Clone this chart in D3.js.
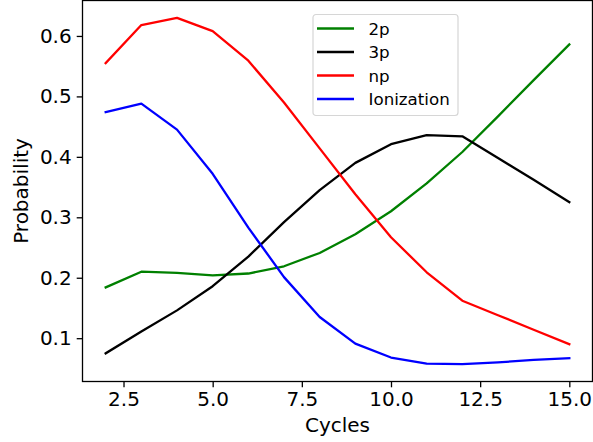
<!DOCTYPE html>
<html>
<head>
<meta charset="utf-8">
<script src="https://cdn.jsdelivr.net/npm/d3@7"></script>
<style>
  body { margin: 0; background: #fff; }
  text { font-family: "DejaVu Sans", sans-serif; fill: #000; }
</style>
</head>
<body>
<div class="chart"></div>
<script>
    // Data
    var cycles = [2, 3, 4, 5, 6, 7, 8, 9, 10, 11, 12, 13, 14, 15];
    var p2p = [0.184, 0.210, 0.208, 0.204, 0.207, 0.219, 0.241, 0.272, 0.310, 0.356, 0.408, 0.467, 0.527, 0.586];
    var p3p = [0.075, 0.111, 0.146, 0.186, 0.235, 0.292, 0.345, 0.390, 0.421, 0.436, 0.434, 0.398, 0.362, 0.325];
    var pnp = [0.555, 0.618, 0.630, 0.608, 0.559, 0.490, 0.414, 0.338, 0.267, 0.209, 0.162, 0.138, 0.114, 0.090];
    var pIon = [0.474, 0.488, 0.445, 0.372, 0.283, 0.201, 0.135, 0.091, 0.068, 0.058, 0.057, 0.060, 0.064, 0.067];
    var seriesNames = ['2p', '3p', 'np', 'Ionization'];
    var seriesColors = ['green', 'black', 'red', 'blue'];
    var xTicks = [2.5, 5.0, 7.5, 10.0, 12.5, 15.0];
    var yTicks = [0.1, 0.2, 0.3, 0.4, 0.5, 0.6];

    var w = 593;
    var h = 442;
    var plotLeft = 82.5;
    var plotRight = 592.5;
    var plotTop = 0.5;
    var plotBottom = 381.5;
    var tickLen = 5.8;
    var fontSize = 20;

    var seriesValues = [p2p, p3p, pnp, pIon];

    var svg = d3.select('.chart')
        .append('svg')
            .attr('width', w)
            .attr('height', h);

    // matplotlib style 5% margins
    var allVals = [].concat(p2p, p3p, pnp, pIon);
    var yMin = d3.min(allVals), yMax = d3.max(allVals);
    var yPad = (yMax - yMin) * 0.05;
    var xPad = (d3.max(cycles) - d3.min(cycles)) * 0.05;

    var x = d3.scaleLinear()
        .domain([d3.min(cycles) - xPad, d3.max(cycles) + xPad])
        .range([plotLeft, plotRight]);
    var y = d3.scaleLinear()
        .domain([yMin - yPad, yMax + yPad])
        .range([plotBottom, plotTop]);

    // Lines
    var line = d3.line()
        .x(function (d, i) { return x(cycles[i]); })
        .y(function (d) { return y(d); });

    svg.selectAll('path.series')
        .data(seriesValues)
        .enter()
        .append('path')
            .attr('class', 'series')
            .attr('d', line)
            .attr('fill', 'none')
            .attr('stroke', function (d, i) { return seriesColors[i]; })
            .attr('stroke-width', 2.3)
            .attr('stroke-linejoin', 'round')
            .attr('stroke-linecap', 'square');

    // Axes
    var xAxis = d3.axisBottom(x)
        .tickValues(xTicks)
        .tickSize(tickLen)
        .tickPadding(4)
        .tickFormat(d3.format('.1f'));
    var yAxis = d3.axisLeft(y)
        .tickValues(yTicks)
        .tickSize(tickLen)
        .tickPadding(5)
        .tickFormat(d3.format('.1f'));

    var gx = svg.append('g')
        .attr('transform', 'translate(0,' + plotBottom + ')')
        .call(xAxis);
    var gy = svg.append('g')
        .attr('transform', 'translate(' + plotLeft + ',0)')
        .call(yAxis);

    [gx, gy].forEach(function (g) {
        g.select('.domain').remove();
        g.selectAll('line').attr('stroke', '#000').attr('stroke-width', 1.3);
        g.selectAll('text')
            .attr('font-family', 'DejaVu Sans, sans-serif')
            .attr('font-size', fontSize)
            .attr('fill', '#000');
    });

    // Frame
    svg.append('rect')
        .attr('x', plotLeft)
        .attr('y', plotTop)
        .attr('width', plotRight - plotLeft)
        .attr('height', plotBottom - plotTop)
        .attr('fill', 'none')
        .attr('stroke', '#000')
        .attr('stroke-width', 1.3);

    // Axis labels
    svg.append('text')
        .text('Cycles')
        .attr('x', (plotLeft + plotRight) / 2)
        .attr('y', 432)
        .attr('text-anchor', 'middle')
        .attr('font-size', fontSize);

    svg.append('text')
        .text('Probability')
        .attr('transform', 'translate(28,' + (plotTop + plotBottom) / 2 + ') rotate(-90)')
        .attr('text-anchor', 'middle')
        .attr('font-size', fontSize);

    // Legend
    var legend = svg.append('g')
        .attr('transform', 'translate(313,14.5)');

    legend.append('rect')
        .attr('width', 145)
        .attr('height', 101)
        .attr('rx', 3)
        .attr('fill', '#fff')
        .attr('fill-opacity', 0.8)
        .attr('stroke', '#d6d6d6')
        .attr('stroke-width', 1.2);

    var items = legend.selectAll('g.item')
        .data(seriesNames)
        .enter()
        .append('g')
            .attr('class', 'item')
            .attr('transform', function (d, i) { return 'translate(0,' + (14 + i * 23.5) + ')'; });

    items.append('line')
        .attr('x1', 4)
        .attr('x2', 41)
        .attr('stroke', function (d, i) { return seriesColors[i]; })
        .attr('stroke-width', 2.3);

    items.append('text')
        .text(function (d) { return d; })
        .attr('x', 55.5)
        .attr('y', 6)
        .attr('font-size', 16.7);
</script>
</body>
</html>
